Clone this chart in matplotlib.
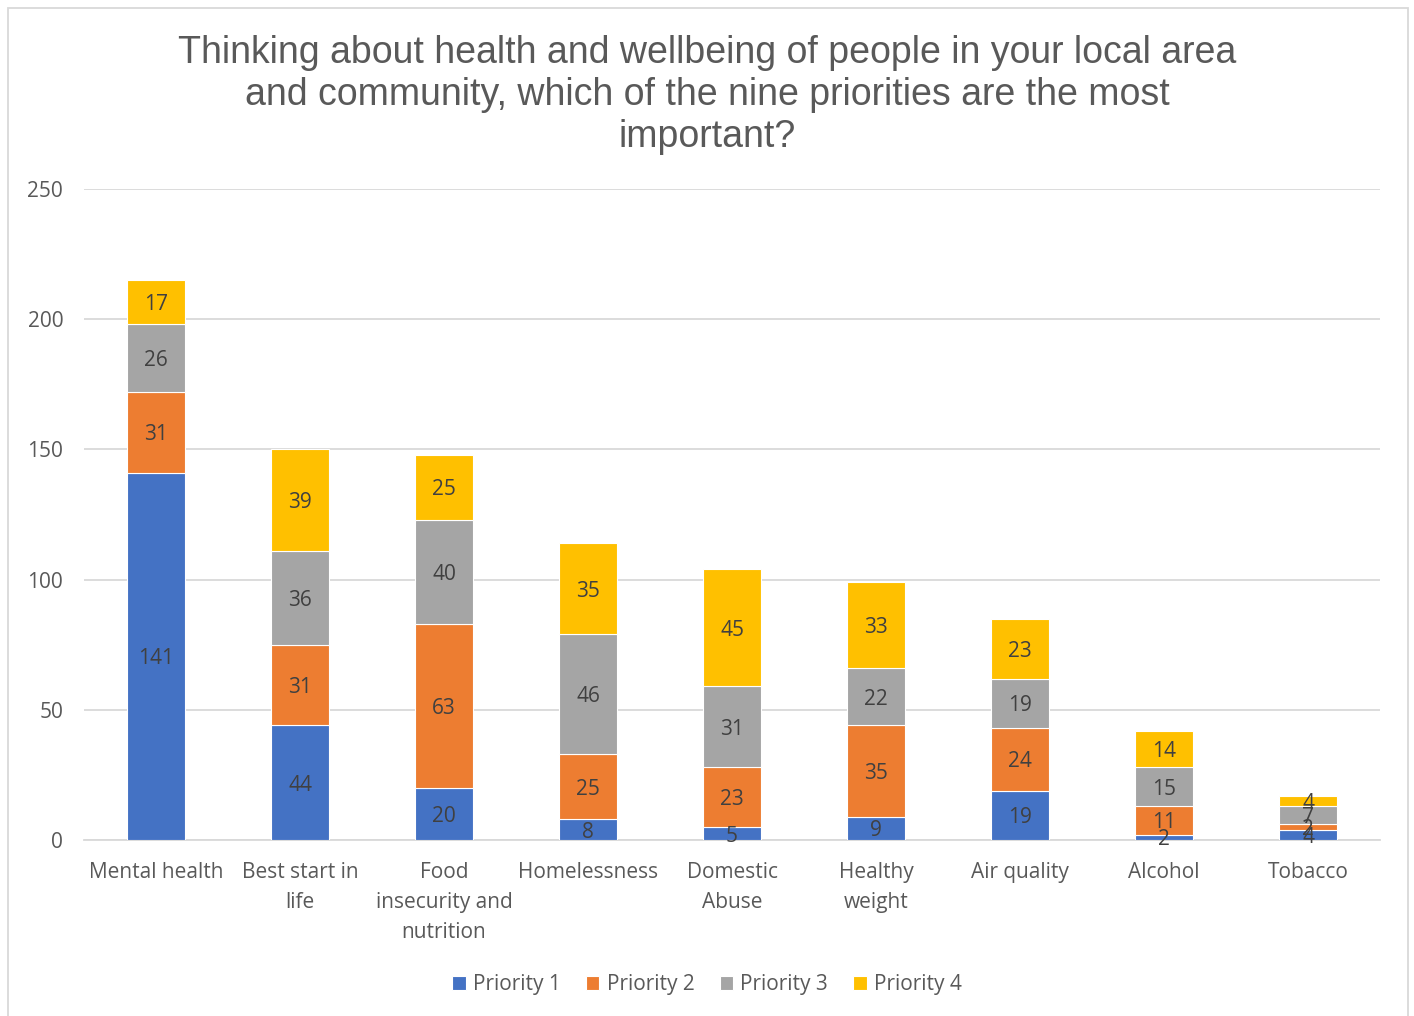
import matplotlib.pyplot as plt
import matplotlib.patches as patches
import numpy as np

categories = ["Mental health", "Best start in\nlife", "Food\ninsecurity and\nnutrition",
              "Homelessness", "Domestic\nAbuse", "Healthy\nweight", "Air quality",
              "Alcohol", "Tobacco"]
priority1 = [141, 44, 20, 8, 5, 9, 19, 2, 4]
priority2 = [31, 31, 63, 25, 23, 35, 24, 11, 2]
priority3 = [26, 36, 40, 46, 31, 22, 19, 15, 7]
priority4 = [17, 39, 25, 35, 45, 33, 23, 14, 4]
series_names = ["Priority 1", "Priority 2", "Priority 3", "Priority 4"]
colors = ["#4472C4", "#ED7D31", "#A5A5A5", "#FFC000"]

plt.rcParams["font.family"] = ["Open Sans", "DejaVu Sans"]

fig = plt.figure(figsize=(14.14, 10.16), dpi=100)
ax = fig.add_axes([0.0594, 0.1732, 0.9166, 0.6408])

x = np.arange(len(categories))
bottom = np.zeros(len(categories))
for name, vals, col in zip(series_names, [priority1, priority2, priority3, priority4], colors):
    vals = np.array(vals, dtype=float)
    ax.bar(x, vals, 0.4, bottom=bottom, color=col, label=name,
           edgecolor="white", linewidth=0.8, zorder=3)
    for xi, b, v in zip(x, bottom, vals):
        ax.text(xi, b + v / 2, f"{int(v)}", ha="center", va="center_baseline",
                fontsize=15, color="#404040", zorder=4)
    bottom += vals

ax.set_ylim(0, 250)
ax.set_xlim(-0.5, len(categories) - 0.5)
ax.set_yticks([0, 50, 100, 150, 200, 250])
ax.yaxis.grid(True, color="#d9d9d9", linewidth=1.3, zorder=0)
ax.set_xticks(x)
ax.set_xticklabels(categories, fontsize=15, color="#595959", linespacing=1.55)
ax.tick_params(axis="y", labelsize=15, labelcolor="#595959", length=0, pad=15)
ax.tick_params(axis="x", length=0, pad=16)
for s in ["top", "right", "left"]:
    ax.spines[s].set_visible(False)
ax.spines["bottom"].set_color("#d9d9d9")
ax.spines["bottom"].set_linewidth(1.3)

fig.suptitle("Thinking about health and wellbeing of people in your local area\n"
             "and community, which of the nine priorities are the most\nimportant?",
             y=0.966, fontsize=27, color="#595959", family=["Liberation Sans", "DejaVu Sans"],
             linespacing=1.22)

fig.legend(loc="center", bbox_to_anchor=(0.5, 0.031), ncol=4, frameon=False,
           fontsize=15, labelcolor="#595959", handlelength=0.65, handleheight=0.65,
           handletextpad=0.35, columnspacing=1.2)

fig.patches.append(patches.Rectangle((8 / 1414, -0.01), 1400 / 1414, 1.0 - 8 / 1016 + 0.01,
                                     transform=fig.transFigure, fill=False,
                                     edgecolor="#d9d9d9", linewidth=1.3))

fig.savefig("out.png", dpi=100)
